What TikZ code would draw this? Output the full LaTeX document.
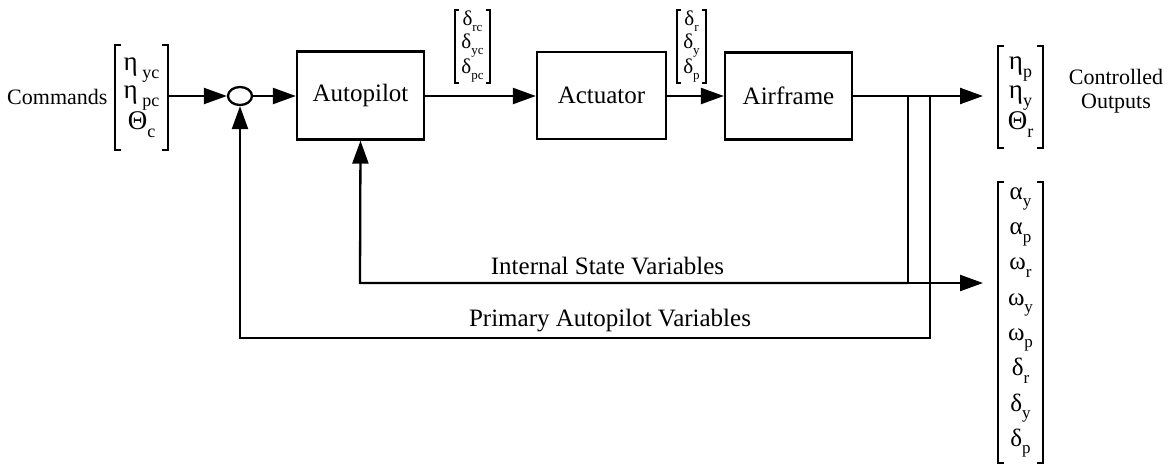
\documentclass[tikz,border=0pt]{standalone}
\usepackage{fontspec}
\setmainfont{Liberation Serif}
\usetikzlibrary{arrows.meta,shapes.geometric}

% lowered subscript whose size is set by \subsz
\newcommand\subsz{16}
\newcommand\lo[1]{\raisebox{-0.3em}{\fontsize{\subsz}{\subsz}\selectfont #1}}
% square brackets around a vector node
\newcommand\vbrackets[2][6pt]{%
  \draw[brk] ([xshift=#1]#2.north west) -- (#2.north west) -- (#2.south west) -- ([xshift=#1]#2.south west);
  \draw[brk] ([xshift=-#1]#2.north east) -- (#2.north east) -- (#2.south east) -- ([xshift=-#1]#2.south east);}

\tikzset{
  block/.style={draw, line width=2.3pt, inner sep=0pt, font=\fontsize{25}{30}\selectfont},
  sumjunc/.style={draw, line width=2.3pt, ellipse, inner sep=0pt, minimum width=24pt, minimum height=18pt},
  sig/.style={line width=2.3pt, -{Triangle[length=23pt,width=16pt]}},
  wire/.style={line width=2.3pt},
  brk/.style={line width=2pt},
  vec/.style={inner sep=0pt, align=center},
  lbl/.style={font=\fontsize{25}{30}\selectfont},
}

\begin{document}
\begin{tikzpicture}[x=1pt,y=-1pt]
\useasboundingbox (0,0) rectangle (1168,464);

% blocks
\node[block, minimum width=127pt, minimum height=88pt] (auto) at (360.5,95.5) {Autopilot};
\node[block, minimum width=129pt, minimum height=87pt] (act) at (601.5,95.5) {Actuator};
\node[block, minimum width=127pt, minimum height=87pt] (air) at (788.5,96) {Airframe};
\node[sumjunc] (sum) at (240,96) {};

% command vector
\node[anchor=east, font=\fontsize{22}{26}\selectfont] (cmdtxt) at (111,97) {Commands};
\node[vec, minimum width=53pt, minimum height=105pt, font=\fontsize{27}{28}\selectfont\renewcommand\subsz{18}] (cmd) at (141.5,97.5)
  {η\,\lo{yc}\\η\,\lo{pc}\\Θ\lo{c}};
\vbrackets{cmd}

% commanded deflections
\node[vec, minimum width=35pt, minimum height=73pt, font=\fontsize{21}{23}\selectfont\renewcommand\subsz{13}] (dc) at (472.5,46.5)
  {δ\lo{rc}\\δ\lo{yc}\\δ\lo{pc}};
\vbrackets[4pt]{dc}

% actual deflections
\node[vec, minimum width=29pt, minimum height=73pt, font=\fontsize{21}{23}\selectfont\renewcommand\subsz{13}] (dd) at (691.5,46.5)
  {δ\lo{r}\\δ\lo{y}\\δ\lo{p}};
\vbrackets[4pt]{dd}

% controlled outputs
\node[vec, minimum width=45pt, minimum height=102pt, font=\fontsize{27}{29}\selectfont\renewcommand\subsz{18}] (outv) at (1020.5,97)
  {η\lo{p}\\η\lo{y}\\Θ\lo{r}};
\vbrackets{outv}
\node[align=center, font=\fontsize{22}{24}\selectfont] (outtxt) at (1116,91) {Controlled\\Outputs};

% state vector
\node[vec, minimum width=45pt, minimum height=281pt, font=\fontsize{25}{35.3}\selectfont\renewcommand\subsz{17}] (state) at (1020.5,322.5)
  {α\lo{y}\\α\lo{p}\\ω\lo{r}\\ω\lo{y}\\ω\lo{p}\\δ\lo{r}\\δ\lo{y}\\δ\lo{p}};
\vbrackets{state}

% taps and corners
\coordinate (outend) at (983,96);
\coordinate (tapA) at (908,96);
\coordinate (tapB) at (930,96);
\coordinate (cornA) at (908,283);
\coordinate (cornB) at (930,338);
\coordinate (isvL) at (360,283);
\coordinate (pavL) at (240,338);
\coordinate (stateend) at (983,283);

% forward path
\draw[sig] (cmd.east |- sum) -- (sum.west);
\draw[sig] (sum.east) -- (auto.west |- sum);
\draw[sig] (auto.east |- sum) -- (act.west |- sum);
\draw[sig] (act.east |- sum) -- (air.west |- sum);
\draw[sig] (air.east |- sum) -- (outend);

% feedback loops
\draw[wire] (tapA) -- (cornA);
\draw[sig] (cornA) -- (isvL) -- (auto.south);
\draw[sig] (cornA) -- (stateend);
\draw[sig] (tapB) -- (cornB) -- (pavL) -- (sum.south);

\node[lbl] (isv) at (607.5,266) {Internal State Variables};
\node[lbl] (pav) at (610,321) {Primary Autopilot Variables};
\end{tikzpicture}
\end{document}
